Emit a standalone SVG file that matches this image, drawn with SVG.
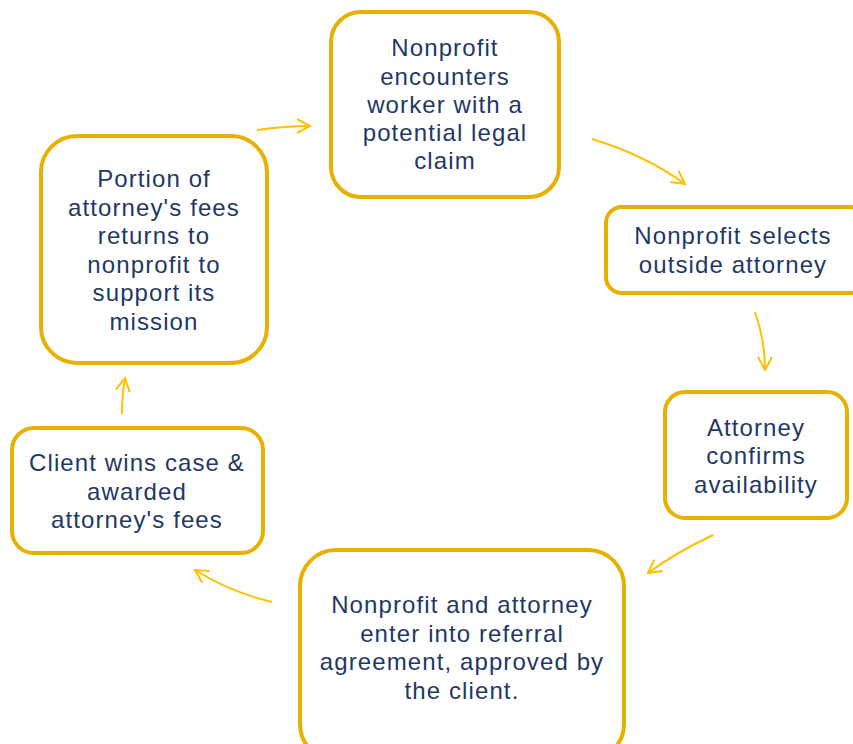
<svg xmlns="http://www.w3.org/2000/svg" width="853" height="744" viewBox="0 0 853 744">
<style>
.box{fill:#fff;stroke:#E8B000;stroke-width:4}
.t{font-family:"Liberation Sans","Noto Sans",sans-serif;font-size:24px;letter-spacing:1.1px;fill:#1F3864;text-anchor:middle}
.c{fill:none;stroke:#FFC000;stroke-width:2}
</style>
<defs>
<marker id="ah" markerWidth="20" markerHeight="20" refX="14" refY="8" orient="auto" markerUnits="userSpaceOnUse" viewBox="0 0 20 16">
<path d="M1,1 L14,8 L1,15" fill="none" stroke="#FFC000" stroke-width="2"/>
</marker>
</defs>
<rect width="853" height="744" fill="#fff"/>
<g id="connectors">
<path class="c" d="M257,130 Q285,126 310,126" marker-end="url(#ah)"/>
<path class="c" d="M592,139 Q645,155 685,184" marker-end="url(#ah)"/>
<path class="c" d="M755,312 Q765,340 765,370" marker-end="url(#ah)"/>
<path class="c" d="M713,535 Q675,553 648,573" marker-end="url(#ah)"/>
<path class="c" d="M272,602 Q230,592 195,570" marker-end="url(#ah)"/>
<path class="c" d="M122,414 Q122,395 125,378" marker-end="url(#ah)"/>
</g>
<g id="n1">
<rect class="box" x="331" y="12" width="228" height="185" rx="30"/>
<text class="t"><tspan x="445" y="56">Nonprofit</tspan><tspan x="445" y="85">encounters</tspan><tspan x="445" y="113">worker with a</tspan><tspan x="445" y="141">potential legal</tspan><tspan x="445" y="169">claim</tspan></text>
</g>
<g id="n2">
<rect class="box" x="606" y="207" width="260" height="86" rx="16"/>
<text class="t"><tspan x="733" y="244">Nonprofit selects</tspan><tspan x="733" y="273">outside attorney</tspan></text>
</g>
<g id="n3">
<rect class="box" x="665" y="392" width="182" height="126" rx="20"/>
<text class="t"><tspan x="756" y="436">Attorney</tspan><tspan x="756" y="464">confirms</tspan><tspan x="756" y="493">availability</tspan></text>
</g>
<g id="n4">
<rect class="box" x="300" y="550" width="324" height="210" rx="36"/>
<text class="t"><tspan x="462" y="613">Nonprofit and attorney</tspan><tspan x="462" y="642">enter into referral</tspan><tspan x="462" y="670">agreement, approved by</tspan><tspan x="462" y="699">the client.</tspan></text>
</g>
<g id="n5">
<rect class="box" x="12" y="428" width="251" height="125" rx="22"/>
<text class="t"><tspan x="137" y="471">Client wins case &amp;</tspan><tspan x="137" y="500">awarded</tspan><tspan x="137" y="528">attorney's fees</tspan></text>
</g>
<g id="n6">
<rect class="box" x="41" y="136" width="226" height="227" rx="36"/>
<text class="t"><tspan x="154" y="187">Portion of</tspan><tspan x="154" y="216">attorney's fees</tspan><tspan x="154" y="244">returns to</tspan><tspan x="154" y="273">nonprofit to</tspan><tspan x="154" y="301">support its</tspan><tspan x="154" y="330">mission</tspan></text>
</g>
</svg>
